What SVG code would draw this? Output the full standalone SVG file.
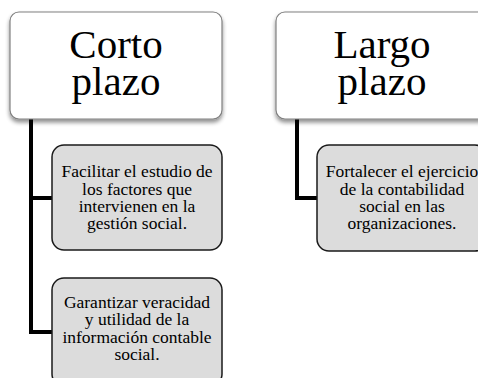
<svg xmlns="http://www.w3.org/2000/svg" width="478" height="378" viewBox="0 0 478 378">
<defs>
<filter id="sh" x="-10%" y="-10%" width="120%" height="130%">
<feGaussianBlur in="SourceAlpha" stdDeviation="2"/>
<feOffset dx="0" dy="3" result="b"/>
<feComponentTransfer><feFuncA type="linear" slope="0.45"/></feComponentTransfer>
<feMerge><feMergeNode/><feMergeNode in="SourceGraphic"/></feMerge>
</filter>
</defs>
<style>
.parent{fill:#ffffff;stroke:#808080;stroke-width:1.2}
.child{fill:#dcdcdc;stroke:#1a1a1a;stroke-width:1.5}
.pt{font-family:"Liberation Serif","Times New Roman",serif;font-size:41px;fill:#000;text-anchor:middle}
.ct{font-family:"Liberation Serif","Times New Roman",serif;font-size:17.5px;fill:#000;text-anchor:middle}
.con{fill:none;stroke:#000;stroke-width:4}
</style>
<rect width="478" height="378" fill="#ffffff"/>
<g id="connectors">
<path class="con" d="M31 119 V332 H52 M31 198 H52"/>
<path class="con" d="M297 119 V198 H317"/>
</g>
<g id="corto">
<rect class="parent" x="10" y="12" width="212" height="107" rx="9" filter="url(#sh)"/>
<text class="pt" x="116" y="58">Corto</text>
<text class="pt" x="116" y="95">plazo</text>
</g>
<g id="largo">
<rect class="parent" x="276" y="12" width="212" height="107" rx="9" filter="url(#sh)"/>
<text class="pt" x="382" y="58">Largo</text>
<text class="pt" x="382" y="95">plazo</text>
</g>
<g id="c1">
<rect class="child" x="52" y="145" width="170" height="105" rx="12"/>
<text class="ct" x="137" y="177">Facilitar el estudio de</text>
<text class="ct" x="137" y="195">los factores que</text>
<text class="ct" x="137" y="212">intervienen en la</text>
<text class="ct" x="137" y="229">gestión social.</text>
</g>
<g id="c2">
<rect class="child" x="52" y="278" width="170" height="108" rx="12"/>
<text class="ct" x="137" y="308">Garantizar veracidad</text>
<text class="ct" x="137" y="325">y utilidad de la</text>
<text class="ct" x="137" y="343">información contable</text>
<text class="ct" x="137" y="360">social.</text>
</g>
<g id="l1">
<rect class="child" x="317" y="145" width="170" height="106" rx="12"/>
<text class="ct" x="402" y="177">Fortalecer el ejercicio</text>
<text class="ct" x="402" y="195">de la contabilidad</text>
<text class="ct" x="402" y="212">social en las</text>
<text class="ct" x="402" y="229">organizaciones.</text>
</g>
</svg>
